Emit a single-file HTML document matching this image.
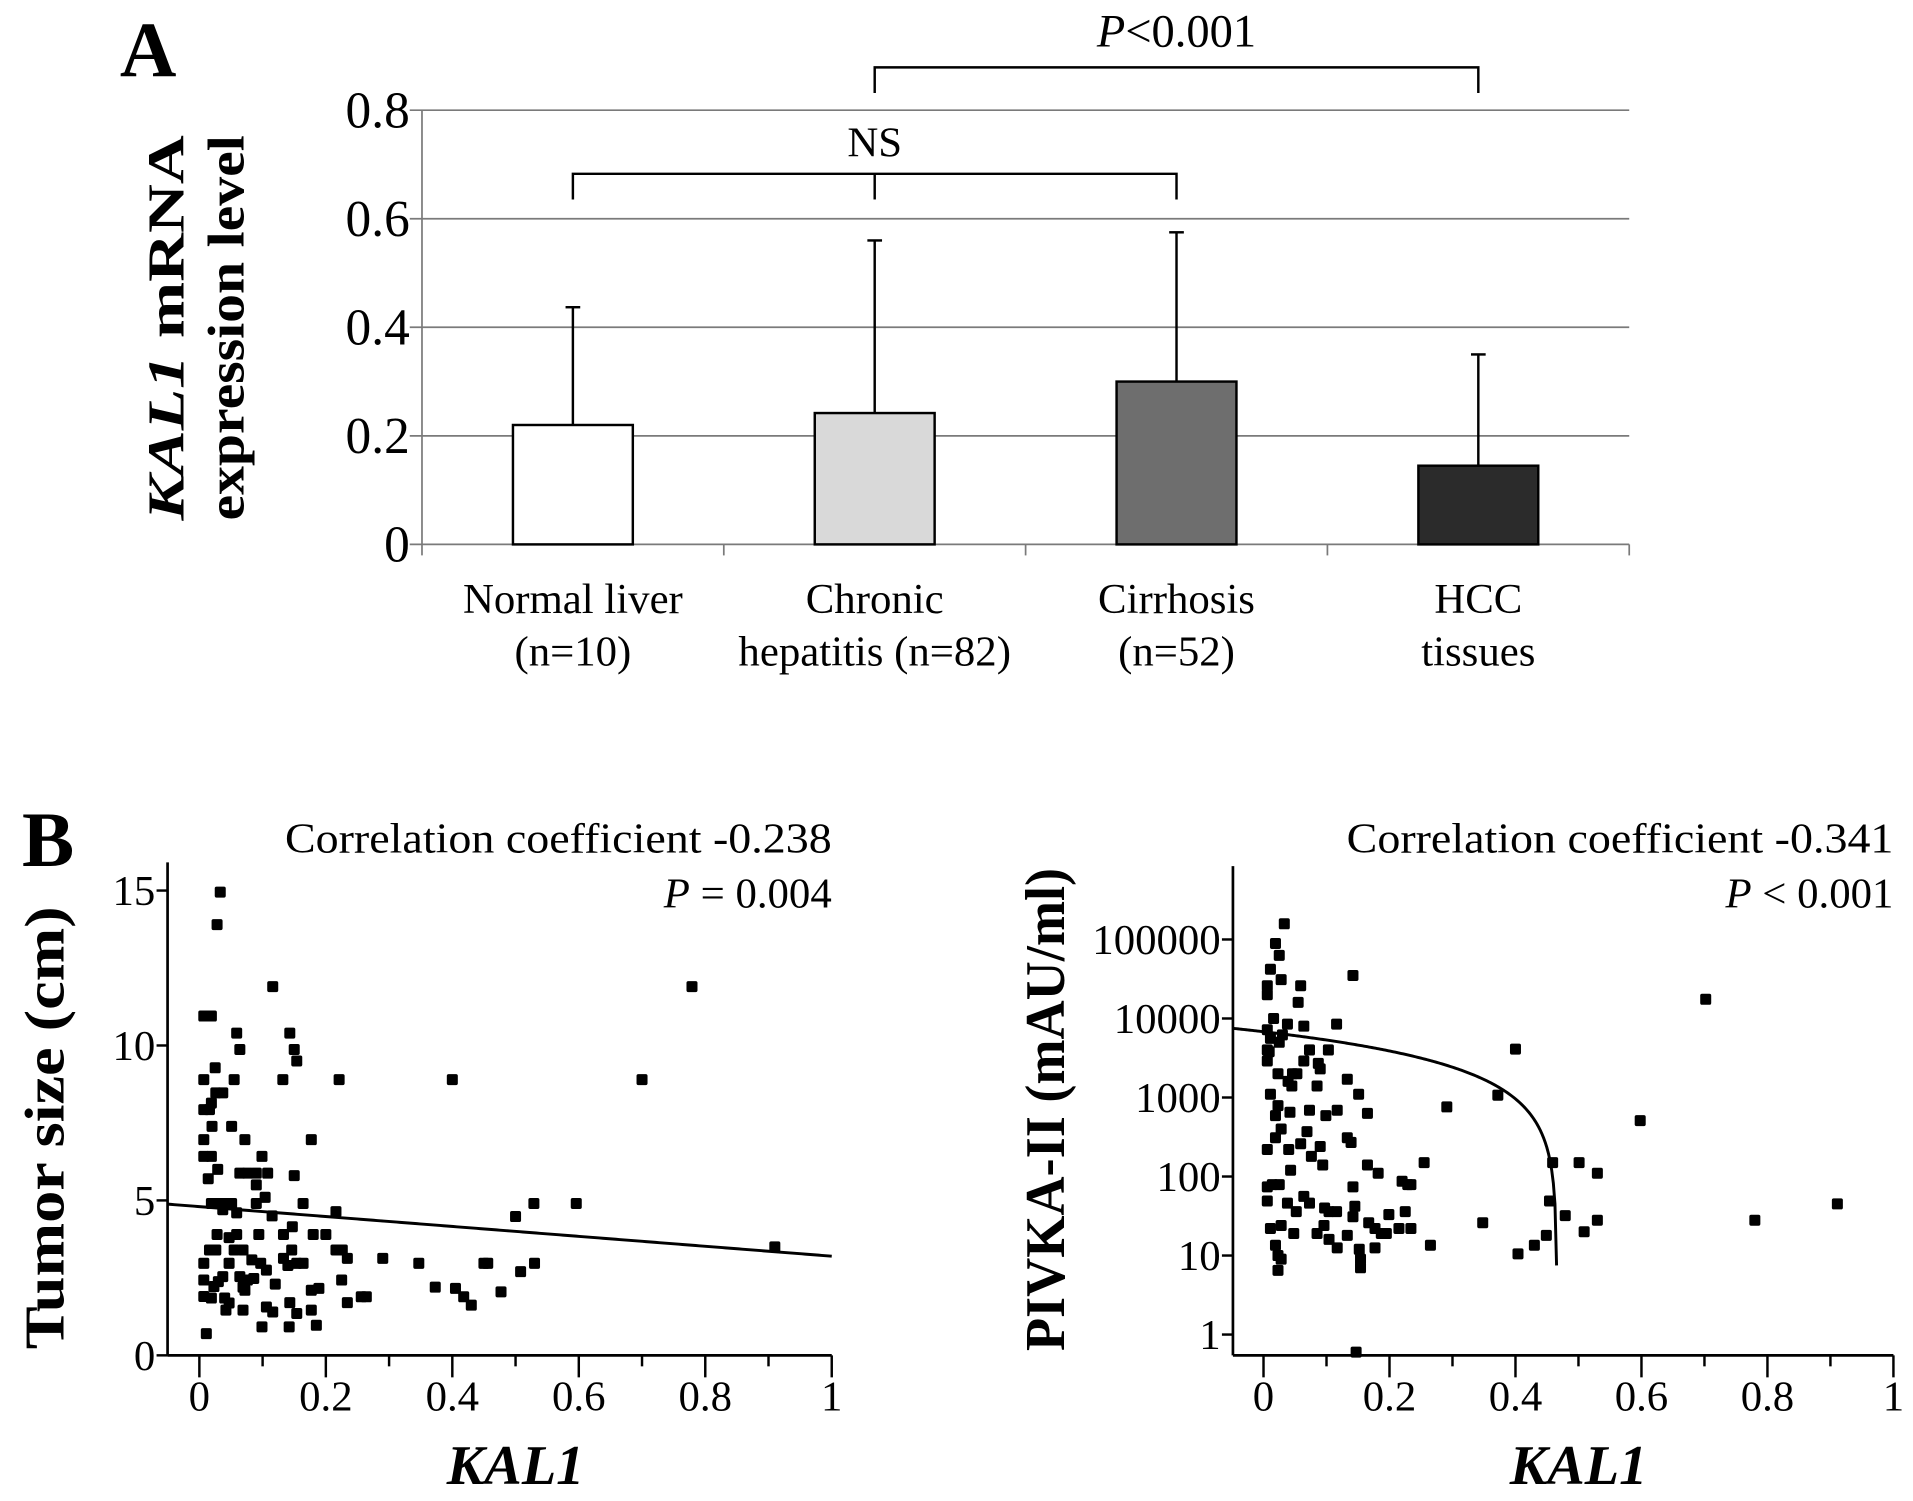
<!DOCTYPE html>
<html><head><meta charset="utf-8"><style>
html,body{margin:0;padding:0;background:#fff;}
svg{display:block;font-family:"Liberation Serif",serif;}
</style></head><body>
<svg id="fig" width="1913" height="1501" viewBox="0 0 1564 1227" xmlns="http://www.w3.org/2000/svg">
<rect width="1564" height="1227" fill="#fff"/>
<text x="98" y="62" font-size="64" font-weight="bold">A</text>
<text x="18" y="708" font-size="64" font-weight="bold">B</text>
<g font-weight="bold" font-size="42" text-anchor="middle">
<text transform="translate(150,268) rotate(-90)" textLength="315" lengthAdjust="spacingAndGlyphs"><tspan font-style="italic">KAL1</tspan> mRNA</text>
<text transform="translate(199,268) rotate(-90)" textLength="315" lengthAdjust="spacingAndGlyphs">expression level</text>
</g>
<g id="barchart"></g>
<g id="sc1"></g>
<g id="sc2"></g>
</svg>
<script>
const NS="http://www.w3.org/2000/svg";
function mk(parent,tag,attrs,text){const e=document.createElementNS(NS,tag);for(const k in attrs)e.setAttribute(k,attrs[k]);if(text!==undefined)e.textContent=text;parent.appendChild(e);return e;}

// ---------- Bar chart data ----------
const barCategories=["Normal liver","Chronic","Cirrhosis","HCC"];
const barCategories2=["(n=10)","hepatitis (n=82)","(n=52)","tissues"];
const barMeans=[0.22,0.242,0.3,0.145];
const barErrTop=[0.437,0.56,0.575,0.35];
const barColors=["#ffffff","#d9d9d9","#6e6e6e","#2b2b2b"];
const barTicks=[0,0.2,0.4,0.6,0.8];
const barTickLabels=["0","0.2","0.4","0.6","0.8"];

const bg=document.getElementById('barchart');
const bx0=345,bx1=1332,by0=445,by1=90;
const bY=v=>by0-(v/0.8)*(by0-by1);
const bW=(bx1-bx0)/barCategories.length;
const bC=i=>bx0+bW*(i+0.5);
barTicks.forEach((t,i)=>{
  const y=bY(t);
  const l=mk(bg,'line',{x1:335,x2:bx1,y1:y,y2:y,stroke:'#7a7a7a','stroke-width':1.4});
  
  
  const tx=mk(bg,'text',{x:335,y:y+14,'font-size':42,'text-anchor':'end'},barTickLabels[i]);
  
  
});
const ax=mk(bg,'line',{x1:bx0,x2:bx0,y1:by1,y2:by0+9,stroke:'#7a7a7a','stroke-width':1.4});


for(let i=1;i<=barCategories.length;i++){
  const x=bx0+bW*i;
  const t=mk(bg,'line',{x1:x,x2:x,y1:by0,y2:by0+9,stroke:'#7a7a7a','stroke-width':1.4});
  
  
}
barMeans.forEach((m,i)=>{
  const c=bC(i);
  const eb=mk(bg,'line',{x1:c,x2:c,y1:bY(m),y2:bY(barErrTop[i]),stroke:'#000','stroke-width':2});
  
  
  const cap=mk(bg,'line',{x1:c-6,x2:c+6,y1:bY(barErrTop[i]),y2:bY(barErrTop[i]),stroke:'#000','stroke-width':2});
  
  
  const r=mk(bg,'rect',{x:c-49,y:bY(m),width:98,height:by0-bY(m),fill:barColors[i],stroke:'#000','stroke-width':2});
  
  
  const l1=mk(bg,'text',{x:c,y:501,'font-size':35,'text-anchor':'middle'},barCategories[i]);
  
  
  const l2=mk(bg,'text',{x:c,y:544,'font-size':35,'text-anchor':'middle'},barCategories2[i]);
  
  
});
function bracket(i1,i2,y,mid){
  const g=mk(bg,'g',{});
  
  
  const a=bC(i1),b=bC(i2);
  mk(g,'path',{d:`M${a},${y+21}V${y}H${b}V${y+21}`,fill:'none',stroke:'#000','stroke-width':2});
  if(mid!==undefined) mk(g,'line',{x1:bC(mid),x2:bC(mid),y1:y,y2:y+21,stroke:'#000','stroke-width':2});
  return g;
}
bracket(0,2,142,1);
const nsT=mk(bg,'text',{x:bC(1),y:128,'font-size':35,'text-anchor':'middle'},'NS');


bracket(1,3,55);
const pT=mk(bg,'text',{x:(bC(1)+bC(3))/2,y:38,'font-size':38,'text-anchor':'middle'});


mk(pT,'tspan',{'font-style':'italic'},'P');mk(pT,'tspan',{},'<0.001');

// ---------- Scatter 1 data ----------
const s1X=[0.033,0.028,0.116,0.779,0.007,0.019,0.059,0.143,0.064,0.15,0.154,0.025,0.007,0.055,0.132,0.221,0.4,0.7,0.037,0.026,0.019,0.007,0.016,0.02,0.051,0.007,0.072,0.177,0.007,0.019,0.099,0.029,0.014,0.064,0.076,0.09,0.108,0.15,0.09,0.104,0.09,0.019,0.03,0.04,0.051,0.037,0.059,0.115,0.164,0.216,0.529,0.596,0.5,0.91,0.028,0.047,0.059,0.094,0.133,0.147,0.18,0.2,0.016,0.026,0.055,0.069,0.146,0.216,0.226,0.234,0.29,0.347,0.45,0.456,0.53,0.007,0.047,0.083,0.097,0.106,0.133,0.14,0.154,0.164,0.007,0.037,0.03,0.023,0.064,0.076,0.086,0.069,0.072,0.12,0.177,0.189,0.225,0.373,0.405,0.418,0.43,0.477,0.508,0.007,0.019,0.04,0.047,0.256,0.264,0.042,0.069,0.106,0.116,0.143,0.154,0.177,0.234,0.099,0.142,0.185,0.011];
const s1Y=[14.95,13.9,11.9,11.9,10.95,10.95,10.4,10.4,9.87,9.87,9.5,9.28,8.9,8.9,8.9,8.9,8.9,8.9,8.47,8.47,8.14,7.93,7.93,7.39,7.39,6.96,6.96,6.96,6.42,6.42,6.42,6.0,5.7,5.88,5.88,5.88,5.88,5.8,5.5,5.1,4.9,4.9,4.9,4.9,4.9,4.7,4.6,4.5,4.9,4.64,4.9,4.9,4.48,3.5,3.9,3.8,3.9,3.9,3.9,4.15,3.9,3.9,3.4,3.4,3.4,3.4,3.4,3.4,3.4,3.13,3.13,2.97,2.97,2.97,2.97,2.97,2.97,3.08,2.97,2.75,3.13,2.9,2.97,2.97,2.43,2.54,2.38,2.22,2.54,2.43,2.48,2.2,2.1,2.3,2.1,2.16,2.43,2.2,2.16,1.89,1.62,2.05,2.7,1.9,1.85,1.85,1.69,1.89,1.89,1.46,1.46,1.56,1.4,1.7,1.35,1.46,1.7,0.92,0.92,0.97,0.7];
const s1Fit=[4.8,-1.6]; // intercept, slope
const s1XTicks=[0,0.2,0.4,0.6,0.8,1];
const s1YTicks=[0,5,10,15];
const s1YLabels=["0","5","10","15"];

// ---------- Scatter 2 data ----------
const s2X=[0.033,0.019,0.025,0.011,0.028,0.006,0.006,0.059,0.142,0.055,0.702,0.016,0.038,0.064,0.116,0.006,0.011,0.025,0.03,0.006,0.009,0.073,0.103,0.4,0.006,0.064,0.053,0.046,0.087,0.09,0.023,0.039,0.045,0.085,0.133,0.151,0.011,0.372,0.291,0.023,0.019,0.042,0.073,0.099,0.117,0.165,0.028,0.019,0.006,0.069,0.04,0.059,0.09,0.133,0.139,0.598,0.076,0.094,0.043,0.165,0.182,0.255,0.459,0.501,0.53,0.006,0.014,0.025,0.142,0.22,0.229,0.234,0.006,0.038,0.052,0.064,0.073,0.097,0.116,0.104,0.145,0.142,0.199,0.225,0.234,0.215,0.011,0.028,0.048,0.085,0.096,0.104,0.117,0.133,0.167,0.177,0.187,0.195,0.177,0.348,0.454,0.479,0.53,0.509,0.449,0.43,0.404,0.265,0.911,0.78,0.019,0.023,0.028,0.023,0.152,0.154,0.154,0.147];
const s2Y=[158000,89000,63000,42000,31000,26000,20000,26000,35000,16000,17500,10000,8500,8000,8500,7200,5600,5000,6200,4000,3800,4000,4000,4100,2900,2900,2000,2000,2700,2300,2000,1600,1400,1400,1700,1100,1100,1070,760,790,590,650,690,590,690,630,400,310,220,370,220,260,240,310,270,510,180,140,120,140,110,150,150,150,110,74,79,79,74,87,79,79,49,46,36,56,46,40,36,36,42,31,33,36,22,22,22,24,19,19,24,16,12.5,18,26,22,19,19,12.5,26,49,32,28,20,18,13.5,10.5,13.5,45,28,13.5,10,9,6.5,12,9,7,0.6];
const s2Fit=[6800,-14600]; // intercept, slope (linear fit shown on log axis)
const s2XTicks=[0,0.2,0.4,0.6,0.8,1];
const s2YTicks=[1,10,100,1000,10000,100000];
const s2YLabels=["1","10","100","1000","10000","100000"];

function scatter(g,o){
  const X=v=>o.x0+(v)*(o.x1-o.x0);
  const Y=o.Y;
  const ya=mk(g,'line',{x1:o.ax,x2:o.ax,y1:o.top,y2:o.bottom,stroke:'#000','stroke-width':2.2});
  
  
  const xa=mk(g,'line',{x1:o.ax,x2:o.x1,y1:o.bottom,y2:o.bottom,stroke:'#000','stroke-width':2.2});
  
  
  for(let k=0;k<=10;k++){
    const x=X(k/10);
    const t=mk(g,'line',{x1:x,x2:x,y1:o.bottom,y2:o.bottom+(k%2?9:18),stroke:'#000','stroke-width':2});
    
    
  }
  o.xTicks.forEach(v=>{
    const t=mk(g,'text',{x:X(v),y:o.bottom+45,'font-size':35,'text-anchor':'middle'},String(v));
    
    
  });
  o.yTicks.forEach((v,i)=>{
    const y=Y(v);
    const t=mk(g,'line',{x1:o.ax-9,x2:o.ax,y1:y,y2:y,stroke:'#000','stroke-width':2});
    
    
    const l=mk(g,'text',{x:o.ax-10,y:y+12,'font-size':35,'text-anchor':'end'},o.yLabels[i]);
    
    
  });
  o.xs.forEach((v,i)=>{
    const p=mk(g,'rect',{x:X(v)-4.5,y:Y(o.ys[i])-4.5,width:9,height:9,rx:1.5,fill:'#000'});
    
    
  });
  let d='';
  const n=200;
  for(let k=0;k<=n;k++){
    const xv=o.fitFrom+(o.fitTo-o.fitFrom)*k/n;
    const yv=o.fit[0]+o.fit[1]*xv;
    d+=(k?'L':'M')+X(xv).toFixed(2)+','+Y(yv).toFixed(2);
  }
  const f=mk(g,'path',{d:d,fill:'none',stroke:'#000','stroke-width':2.4});
  
  
  const c1=mk(g,'text',{x:o.x1,y:697,'font-size':35,'text-anchor':'end',textLength:447,lengthAdjust:'spacingAndGlyphs'},o.corr);
  
  
  const c2=mk(g,'text',{x:o.x1,y:742,'font-size':35,'text-anchor':'end'});
  
  
  mk(c2,'tspan',{'font-style':'italic'},'P');mk(c2,'tspan',{},o.p);
  const xt=mk(g,'text',{x:(o.x0+o.x1)/2,y:1213,'font-size':46,'font-weight':'bold','font-style':'italic','text-anchor':'middle'},'KAL1');
  
  
  const yt=mk(g,'text',{transform:`translate(${o.ytx},${o.yty}) rotate(-90)`,'font-size':46,'font-weight':'bold','text-anchor':'middle',textLength:o.ylen,lengthAdjust:'spacingAndGlyphs'},o.ytitle);
  
  
}
scatter(document.getElementById('sc1'),{x0:163,x1:680,ax:137,top:705,bottom:1108,
  Y:v=>1108-v*(380/15),xs:s1X,ys:s1Y,fit:s1Fit,fitFrom:-0.05,fitTo:1,
  xTicks:s1XTicks,yTicks:s1YTicks,yLabels:s1YLabels,corr:'Correlation coefficient -0.238',p:' = 0.004',
  ytitle:'Tumor size (cm)',ytx:52,yty:922,ylen:362});
scatter(document.getElementById('sc2'),{x0:1033,x1:1548,ax:1008,top:708,bottom:1108,
  Y:v=>1091-Math.log10(Math.max(v,0.5))*64.6,xs:s2X,ys:s2Y,fit:s2Fit,fitFrom:-0.048,fitTo:(6800-7.5)/14600,
  xTicks:s2XTicks,yTicks:s2YTicks,yLabels:s2YLabels,corr:'Correlation coefficient -0.341',p:' < 0.001',
  ytitle:'PIVKA-II (mAU/ml)',ytx:870,yty:907,ylen:395});
</script>
</body></html>
